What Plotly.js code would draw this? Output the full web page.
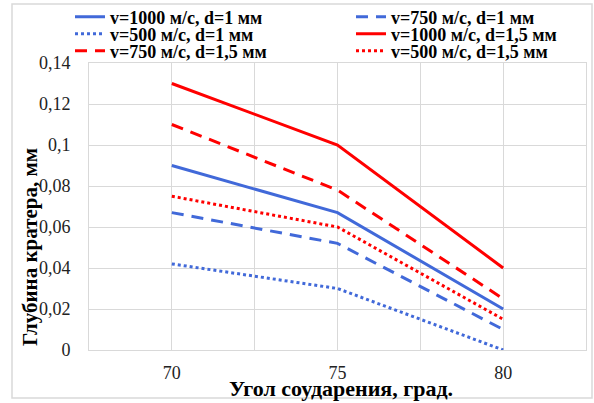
<!DOCTYPE html>
<html><head><meta charset="utf-8">
<script src="https://cdn.plot.ly/plotly-3.0.1.min.js"></script>
<style>html,body{margin:0;padding:0;background:#fff}#c{width:594px;height:403px}</style>
</head><body><div id="c"></div>
<script>
const angles = [70, 75, 80];
const v1000_d1 = [0.09, 0.067, 0.02];
const v750_d1 = [0.067, 0.052, 0.01];
const v500_d1 = [0.042, 0.03, 0.0];
const v1000_d15 = [0.13, 0.1, 0.04];
const v750_d15 = [0.11, 0.078, 0.025];
const v500_d15 = [0.075, 0.06, 0.015];
const names = ['v=1000 м/с, d=1 мм','v=750 м/с, d=1 мм','v=500 м/с, d=1 мм','v=1000 м/с, d=1,5 мм','v=750 м/с, d=1,5 мм','v=500 м/с, d=1,5 мм'];
const xTickVals = [70, 72.5, 75, 77.5, 80, 82.5];
const xTickText = ['70', '', '75', '', '80', ''];
const yTickVals = [0, 0.02, 0.04, 0.06, 0.08, 0.1, 0.12, 0.14];
const yTickText = ['0', '0,02', '0,04', '0,06', '0,08', '0,1', '0,12', '0,14'];

const BLUE = '#4169D9', RED = '#FF0000';
const L = 89, T = 63, W = 497, H = 287;
const px = x => (x - L) / W, py = y => (T + H - y) / H;

const series = [
  [v1000_d1, BLUE, 'solid', 'legend', 70, 17],
  [v750_d1, BLUE, '12px,8px', 'legend2', 351, 17],
  [v500_d1, BLUE, 'dot', 'legend3', 70, 34],
  [v1000_d15, RED, 'solid', 'legend4', 351, 34],
  [v750_d15, RED, '12px,8px', 'legend5', 70, 51],
  [v500_d15, RED, 'dot', 'legend6', 351, 51]
];
const data = series.map((s, i) => ({
  x: angles, y: s[0], name: names[i], type: 'scatter', mode: 'lines',
  line: {color: s[1], dash: s[2], width: 3}, legend: s[3]
}));
const legFont = {family: 'Liberation Serif, Times New Roman, serif', size: 18, color: '#000', weight: 'bold'};
const layout = {
  width: 594, height: 403,
  margin: {l: L, r: 594 - L - W, t: T, b: 403 - T - H, autoexpand: false},
  paper_bgcolor: '#fff', plot_bgcolor: '#fff',
  font: {family: 'Liberation Serif, Times New Roman, serif', size: 18, color: '#222'},
  separators: ', ',
  xaxis: {range: [67.5, 82.5], tickvals: xTickVals, ticktext: xTickText, showgrid: true, gridcolor: '#d9d9d9', gridwidth: 1,
    showline: true, linecolor: '#d9d9d9', mirror: true, ticks: '', ticklabelstandoff: 6, zeroline: false, fixedrange: true, automargin: false},
  yaxis: {range: [0, 0.14], tickvals: yTickVals, ticktext: yTickText, showgrid: true, gridcolor: '#d9d9d9', gridwidth: 1,
    showline: true, linecolor: '#d9d9d9', mirror: true, ticks: '', ticklabelstandoff: 14, zeroline: false, fixedrange: true, automargin: false},
  showlegend: true,
  annotations: [
    {text: 'Угол соударения, град.', xref: 'paper', yref: 'paper', x: px(341), y: py(388), xanchor: 'center', yanchor: 'middle', showarrow: false,
      font: {family: 'Liberation Serif, Times New Roman, serif', size: 22, color: '#000', weight: 'bold'}},
    {text: 'Глубина кратера, мм', xref: 'paper', yref: 'paper', x: px(30), y: py(247), xanchor: 'center', yanchor: 'middle', showarrow: false, textangle: -90,
      font: {family: 'Liberation Serif, Times New Roman, serif', size: 21, color: '#000', weight: 'bold'}}
  ],
  shapes: [
    {type: 'rect', xref: 'paper', yref: 'paper', x0: px(12), x1: px(592), y0: py(398), y1: py(4), line: {color: '#d9d9d9', width: 1.5}, layer: 'below'}
  ]
};
series.forEach(s => {
  layout[s[3]] = {x: px(s[4]), y: py(s[5]), xanchor: 'left', yanchor: 'middle', bgcolor: 'rgba(0,0,0,0)', borderwidth: 0, font: legFont, itemclick: false};
});
Plotly.newPlot('c', data, layout, {staticPlot: true, displayModeBar: false});
</script></body></html>
